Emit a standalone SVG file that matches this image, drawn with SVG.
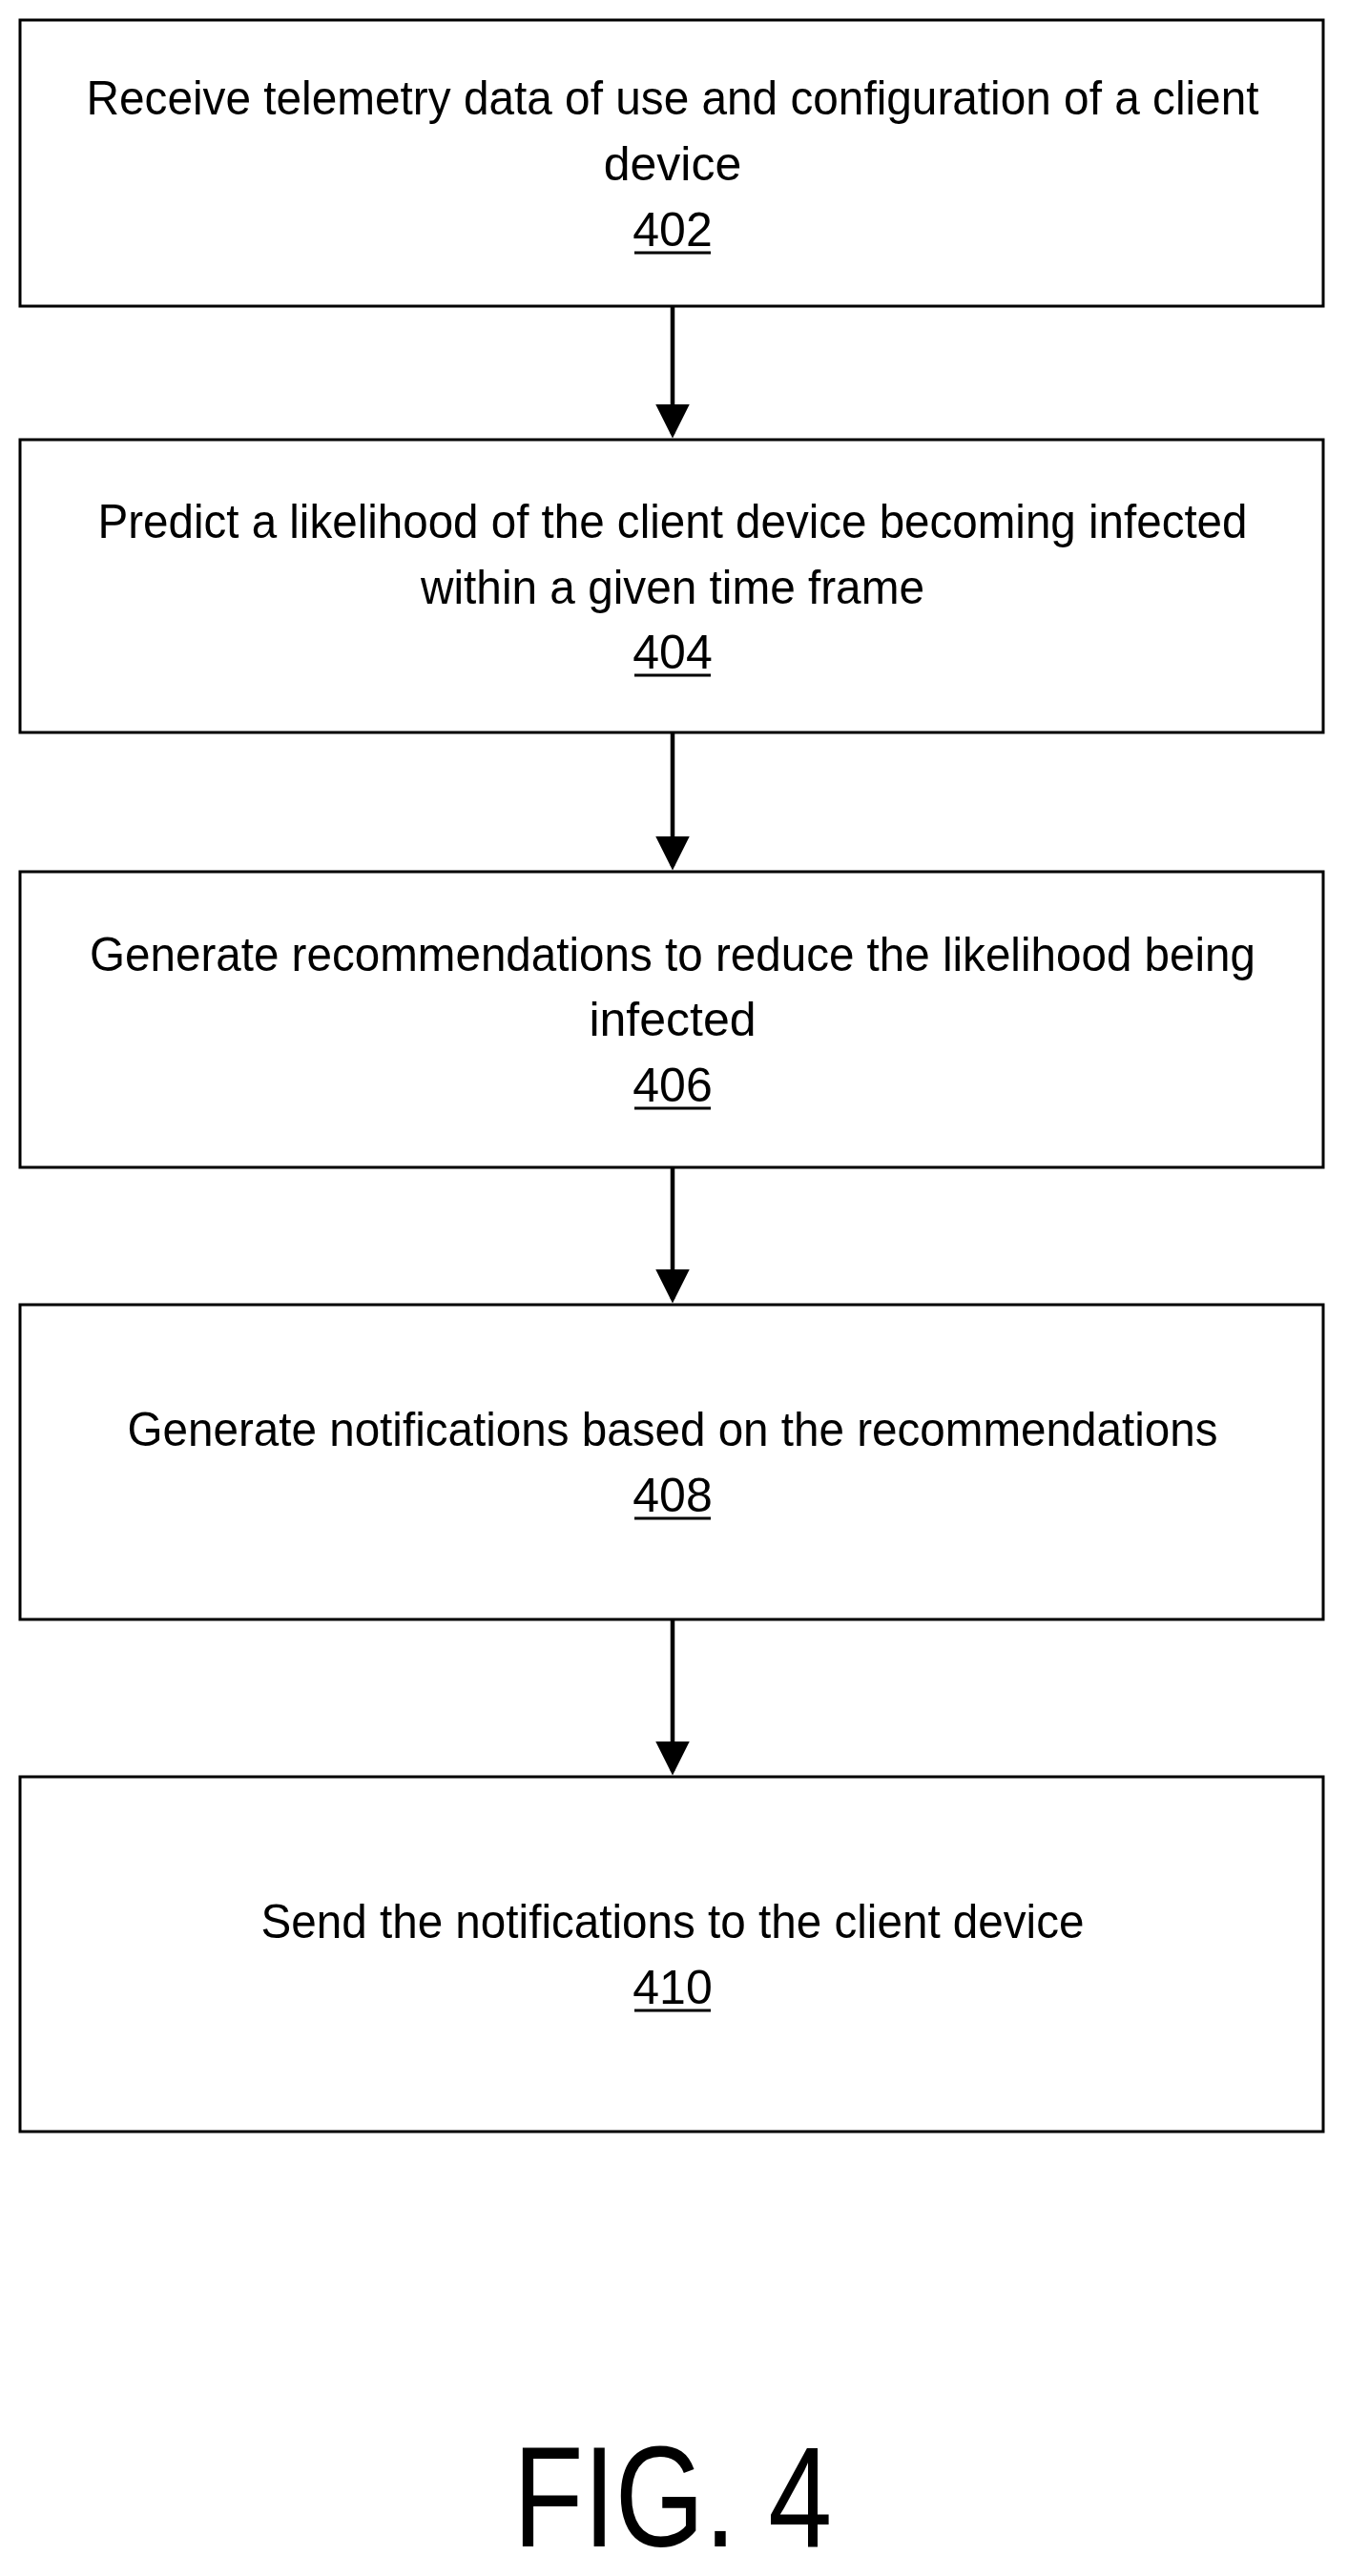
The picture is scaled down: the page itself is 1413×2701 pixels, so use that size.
<svg xmlns="http://www.w3.org/2000/svg" width="1413" height="2701" viewBox="0 0 1413 2701">
<style>
.b{fill:#fff;stroke:#000;stroke-width:3}
text{font-family:"Liberation Sans",Arial,sans-serif;font-size:50px;text-anchor:middle;fill:#000}
.u{stroke:#000;stroke-width:3}
.c{stroke:#000;stroke-width:4.5;fill:none}
</style>
<defs><marker id="a" markerWidth="8" markerHeight="8" refX="7" refY="4" orient="auto" markerUnits="strokeWidth"><path d="M0,0L8,4L0,8z" fill="#000"/></marker></defs>
<rect width="1413" height="2701" fill="#fff"/>
<g id="n402"><rect class="b" x="21" y="21" width="1366" height="300"/>
<text x="705" y="120" textLength="1229" lengthAdjust="spacingAndGlyphs">Receive telemetry data of use and configuration of a client</text>
<text x="705" y="189">device</text>
<text x="705" y="258">402</text><line class="u" x1="665" y1="265" x2="745" y2="265"/></g>
<g id="n404"><rect class="b" x="21" y="461" width="1366" height="307"/>
<text x="705" y="564" textLength="1205" lengthAdjust="spacingAndGlyphs">Predict a likelihood of the client device becoming infected</text>
<text x="705" y="633" textLength="528" lengthAdjust="spacingAndGlyphs">within a given time frame</text>
<text x="705" y="701">404</text><line class="u" x1="665" y1="708" x2="745" y2="708"/></g>
<g id="n406"><rect class="b" x="21" y="914" width="1366" height="310"/>
<text x="705" y="1018" textLength="1222" lengthAdjust="spacingAndGlyphs">Generate recommendations to reduce the likelihood being</text>
<text x="705" y="1086">infected</text>
<text x="705" y="1155">406</text><line class="u" x1="665" y1="1162" x2="745" y2="1162"/></g>
<g id="n408"><rect class="b" x="21" y="1368" width="1366" height="330"/>
<text x="705" y="1516" textLength="1143" lengthAdjust="spacingAndGlyphs">Generate notifications based on the recommendations</text>
<text x="705" y="1585">408</text><line class="u" x1="665" y1="1592" x2="745" y2="1592"/></g>
<g id="n410"><rect class="b" x="21" y="1863" width="1366" height="372"/>
<text x="705" y="2032" textLength="863" lengthAdjust="spacingAndGlyphs">Send the notifications to the client device</text>
<text x="705" y="2101">410</text><line class="u" x1="665" y1="2108" x2="745" y2="2108"/></g>
<g id="connectors">
<line class="c" x1="705" y1="321" x2="705" y2="455" marker-end="url(#a)"/>
<line class="c" x1="705" y1="768" x2="705" y2="908" marker-end="url(#a)"/>
<line class="c" x1="705" y1="1224" x2="705" y2="1362" marker-end="url(#a)"/>
<line class="c" x1="705" y1="1698" x2="705" y2="1857" marker-end="url(#a)"/>
</g>
<text x="705" y="2670" style="font-size:150px" textLength="334" lengthAdjust="spacingAndGlyphs">FIG. 4</text>
</svg>
